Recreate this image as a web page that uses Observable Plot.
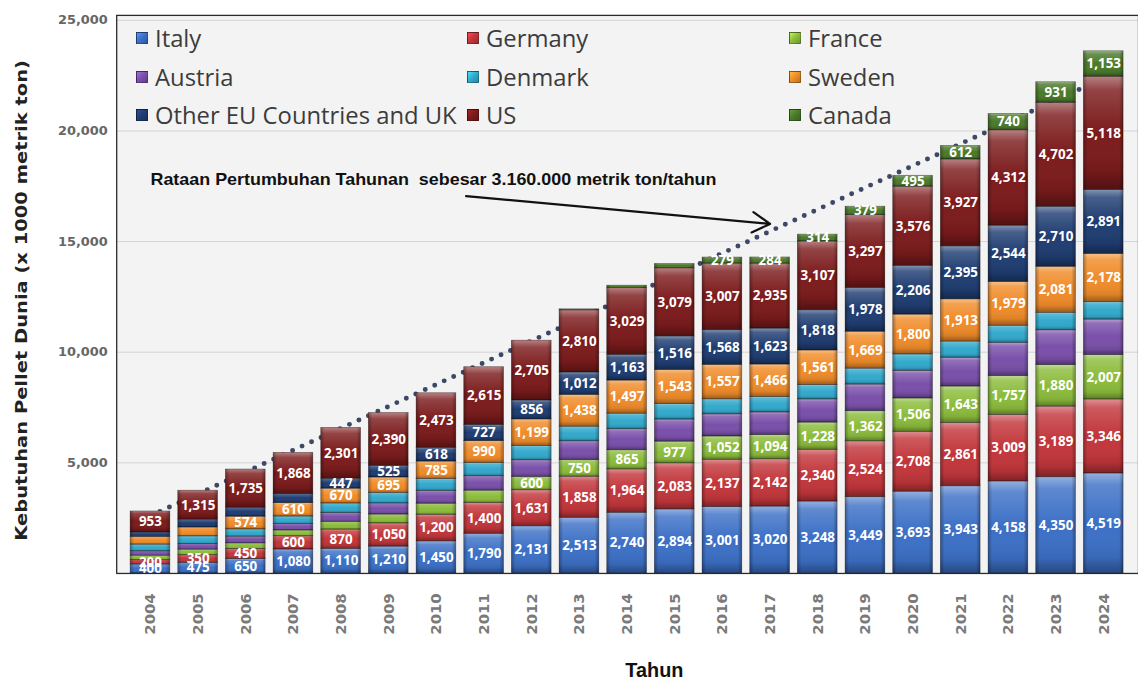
<!DOCTYPE html>
<html><head><meta charset="utf-8">
<script src="https://cdn.jsdelivr.net/npm/d3@7"></script>
<script src="https://cdn.jsdelivr.net/npm/@observablehq/plot@0.6"></script>
<style>
html,body{margin:0;padding:0;background:#fff;overflow:hidden;}
#wrap{position:relative;width:1138px;height:685px;overflow:hidden;}
#chart svg{display:block;}
#legend{position:absolute;left:136px;top:19px;display:grid;grid-template-columns:331px 322px 300px;grid-auto-rows:38.5px;font-family:"Open Sans",sans-serif;font-size:23.8px;color:#3c3c3c;}
.item{display:flex;align-items:center;white-space:nowrap;}
.sw{width:12px;height:12px;margin-right:7px;border:1px solid rgba(0,0,0,.4);box-sizing:border-box;}
</style></head><body><div id="wrap"><div id="chart"></div><div id="legend"></div></div>
<script>
const years = ["2004","2005","2006","2007","2008","2009","2010","2011","2012","2013","2014","2015","2016","2017","2018","2019","2020","2021","2022","2023","2024"];
const seriesNames = ["Italy","Germany","France","Austria","Denmark","Sweden","Other EU Countries and UK","US","Canada"];
const seriesColors = ["#3c70c6","#c2363b","#8cbc3c","#7a50aa","#33a9cc","#f08c2a","#1f3d72","#7c1b1c","#4b7a2b"];
const italy   = [400,475,650,1080,1110,1210,1450,1790,2131,2513,2740,2894,3001,3020,3248,3449,3693,3943,4158,4350,4519];
const germany = [200,350,450,600,870,1050,1200,1400,1631,1858,1964,2083,2137,2142,2340,2524,2708,2861,3009,3189,3346];
const france  = [200,250,260,260,350,400,500,550,600,750,865,977,1052,1094,1228,1362,1506,1643,1757,1880,2007];
const austria = [200,250,300,300,400,500,580,650,750,850,950,1000,1000,1020,1050,1200,1250,1300,1500,1570,1600];
const denmark = [300,350,330,330,430,480,540,600,650,660,700,700,680,700,650,720,740,730,770,790,790];
const sweden  = [350,400,574,610,670,695,785,990,1199,1438,1497,1543,1557,1466,1561,1669,1800,1913,1979,2081,2178];
const otherEU = [200,350,400,400,447,525,618,727,856,1012,1163,1516,1568,1623,1818,1978,2206,2395,2544,2710,2891];
const us      = [953,1315,1735,1868,2301,2390,2473,2615,2705,2810,3029,3079,3007,2935,3107,3297,3576,3927,4312,4702,5118];
const canada  = [0,0,0,0,0,0,0,0,0,50,100,200,279,284,314,379,495,612,740,931,1153];
const seriesValues = [italy,germany,france,austria,denmark,sweden,otherEU,us,canada];
const labelFrom = ["2004","2004","2012",null,null,"2006","2008","2004","2016"];
const yTicks = [5000,10000,15000,20000,25000];
const trendYears = ["2004","2024"];
const trendValues = [2610,22390];
const annotationText = ["Rataan Pertumbuhan Tahunan  sebesar 3.160.000 metrik ton/tahun"];
const annotationYear = ["2004"];
const annotationValue = [17820];
const arrowYears = ["2010","2017"];
const arrowValues = [17177,15800];
const yTitle = ["Kebutuhan Pellet Dunia (x 1000 metrik ton)"];
const xTitle = ["Tahun"];

const fmt = d3.format(",");
const rows = [];
years.forEach((yr, i) => {
  seriesNames.forEach((s, k) => {
    const v = seriesValues[k][i];
    const lf = labelFrom[k];
    rows.push({year: yr, series: s, value: v, label: (lf !== null && +yr >= +lf && v > 0) ? fmt(v) : null});
  });
});
const trend = trendYears.map((y, i) => ({year: y, value: trendValues[i]}));
const arrowData = [{x1: arrowYears[0], y1: arrowValues[0], x2: arrowYears[1], y2: arrowValues[1]}];

const plot = Plot.plot({
  width: 1146, height: 685,
  marginLeft: 117, marginRight: 0, marginTop: 15, marginBottom: 108,
  x: {domain: years, padding: 0.16, axis: null},
  y: {domain: [0, 25224], axis: null},
  color: {domain: seriesNames, range: seriesColors},
  marks: [
    Plot.frame({fill: "#f3f3f3", stroke: "none"}),
    Plot.ruleY(yTicks, {stroke: "#d4d4d4", strokeWidth: 1}),
    Plot.line(trend, {x: "year", y: "value", stroke: "#3d4766", strokeWidth: 5, strokeLinecap: "round", strokeDasharray: "0 10.5"}),
    Plot.barY(rows, {x: "year", y: "value", fill: "series"}),
    Plot.barY(rows, {x: "year", y: "value", z: "series", fill: "url(#bevV)"}),
    Plot.barY(rows, {x: "year", y: "value", z: "series", fill: "url(#bevH)", stroke: "rgba(0,0,0,0.35)", strokeWidth: 0.8}),
    Plot.text(rows, Plot.stackY({x: "year", y: "value", z: "series", text: "label", fill: "white", fontWeight: "bold", fontSize: 13.5, fontFamily: "Open Sans"})),
    Plot.text(annotationText, {x: annotationYear, y: annotationValue, text: d => d, textAnchor: "start", fontFamily: "Liberation Sans Narrow, Liberation Sans, sans-serif", fontWeight: "bold", fontSize: 17, fill: "#111"}),
    Plot.arrow(arrowData, {x1: "x1", y1: "y1", x2: "x2", y2: "y2", stroke: "#111", strokeWidth: 2.2, headLength: 14, insetStart: 30}),
    Plot.frame({stroke: "#2a2a2a", strokeWidth: 1.3}),
    Plot.axisY(yTicks, {tickSize: 0, tickPadding: 9, tickFormat: fmt, label: null, fontSize: 13, fontWeight: "bold", fontFamily: "DejaVu Sans", color: "#666"}),
    Plot.axisX({tickSize: 0, tickPadding: 20, tickRotate: -90, label: null, fontSize: 15, fontWeight: "bold", fontFamily: "DejaVu Sans", color: "#7a7a7a"}),
    Plot.text(yTitle, {frameAnchor: "left", textAnchor: "middle", rotate: -90, dx: -95, dy: 6, text: d => d, fontSize: 16, fontWeight: "bold", fontFamily: "DejaVu Sans", fill: "#222"}),
    Plot.text(xTitle, {frameAnchor: "bottom", dx: 27, dy: 104, text: d => d, fontSize: 20, fontWeight: "bold", fontFamily: "Liberation Sans Narrow, Liberation Sans, sans-serif", fill: "#111"})
  ]
});
plot.insertAdjacentHTML("afterbegin", `<defs>
<linearGradient id="bevV" x1="0" y1="0" x2="0" y2="1">
<stop offset="0" stop-color="#fff" stop-opacity="0.45"/>
<stop offset="0.12" stop-color="#fff" stop-opacity="0.18"/>
<stop offset="0.5" stop-color="#fff" stop-opacity="0"/>
<stop offset="0.85" stop-color="#000" stop-opacity="0.08"/>
<stop offset="1" stop-color="#000" stop-opacity="0.35"/>
</linearGradient>
<linearGradient id="bevH" x1="0" y1="0" x2="1" y2="0">
<stop offset="0" stop-color="#000" stop-opacity="0.3"/>
<stop offset="0.1" stop-color="#000" stop-opacity="0"/>
<stop offset="0.9" stop-color="#000" stop-opacity="0"/>
<stop offset="1" stop-color="#000" stop-opacity="0.3"/>
</linearGradient></defs>`);
document.getElementById("chart").appendChild(plot);
plot.querySelectorAll("text").forEach(t => {
  if (t.textContent === annotationText[0]) { t.setAttribute("textLength", 570); t.setAttribute("lengthAdjust", "spacingAndGlyphs"); t.style.whiteSpace = "pre"; }
  if (t.textContent === yTitle[0]) { t.setAttribute("textLength", 484); t.setAttribute("lengthAdjust", "spacingAndGlyphs"); }
});
const legend = document.getElementById("legend");
seriesNames.forEach((s, k) => {
  const c = seriesColors[k];
  const item = document.createElement("div");
  item.className = "item";
  item.innerHTML = `<span class="sw" style="background:linear-gradient(135deg, ${d3.color(c).brighter(0.8)} 0%, ${c} 50%, ${d3.color(c).darker(0.6)} 100%)"></span><span>${s}</span>`;
  legend.appendChild(item);
});
</script></body></html>
